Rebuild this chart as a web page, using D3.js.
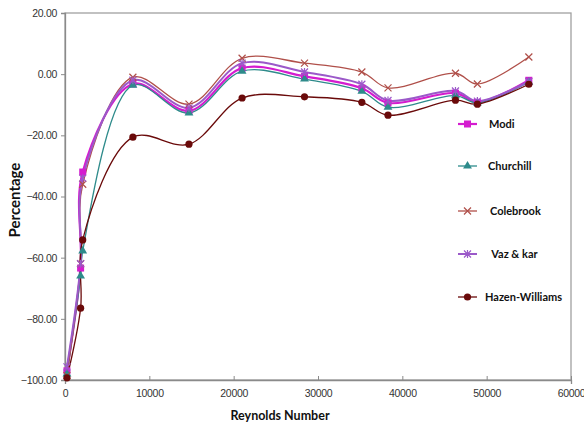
<!DOCTYPE html>
<html><head><meta charset="utf-8">
<script src="https://cdn.jsdelivr.net/npm/d3@7"></script>
<style>body{margin:0;background:#fff}svg{display:block}</style>
</head><body>
<svg id="c" width="584" height="430"></svg>
<script>
const reynolds = [230, 1850, 2100, 8050, 14700, 21000, 28400, 35200, 38300, 46300, 48900, 55000];
const modi      = [-97.0, -63.4, -32.0, -3.2, -12.0, 2.0, -0.7, -4.6, -9.4, -6.2, -9.2, -2.0];
const churchill = [-98.0, -66.0, -57.8, -3.6, -12.7, 1.0, -1.6, -5.6, -10.8, -7.0, -9.4, -2.6];
const colebrook = [-98.5, -62.0, -36.0, -1.0, -9.8, 5.2, 3.6, 0.7, -4.5, 0.3, -3.2, 5.6];
const vazKar    = [-95.7, -62.0, -34.0, -2.0, -11.0, 3.6, 0.7, -3.3, -8.6, -5.5, -8.8, -2.4];
const hazen     = [-99.3, -76.5, -54.2, -20.6, -22.9, -7.8, -7.4, -9.2, -13.4, -8.5, -9.8, -3.3];
const seriesNames = ["Modi", "Churchill", "Colebrook", " Vaz & kar", "Hazen-Williams"];
const xTicks = [0, 10000, 20000, 30000, 40000, 50000, 60000];
const yTicks = [-100, -80, -60, -40, -20, 0, 20];

const series = [
  {name: seriesNames[0], values: modi, color: "#d41ccf", width: 2.2, marker: "square"},
  {name: seriesNames[1], values: churchill, color: "#2e8b8b", width: 1.3, marker: "triangle"},
  {name: seriesNames[2], values: colebrook, color: "#b0504a", width: 1.3, marker: "cross"},
  {name: seriesNames[3], values: vazKar, color: "#9b59c9", width: 2.0, marker: "star"},
  {name: seriesNames[4], values: hazen, color: "#6a0a0a", width: 1.3, marker: "circle"}
];

const svg = d3.select("#c");
const x = d3.scaleLinear().domain([0, 60000]).range([65, 571]);
const y = d3.scaleLinear().domain([-100, 20]).range([380, 13]);

// frame
svg.append("rect").attr("x", 65).attr("y", 13).attr("width", 506).attr("height", 367)
  .attr("fill", "none").attr("stroke", "#a0a0a0").attr("stroke-width", 1.3);

const xAxis = svg.append("g").attr("transform", "translate(0,380)")
  .call(d3.axisBottom(x).tickValues(xTicks).tickFormat(d3.format("d")).tickSize(4).tickPadding(6));
const yAxis = svg.append("g").attr("transform", "translate(65,0)")
  .call(d3.axisLeft(y).tickValues(yTicks).tickFormat(d3.format(".2f")).tickSize(4).tickPadding(4));
[xAxis, yAxis].forEach(a => {
  a.selectAll("path").attr("stroke", "#8a8a8a").attr("stroke-width", 1.3);
  a.selectAll("line").attr("stroke", "#8a8a8a");
  a.selectAll("text").attr("font-family", "Liberation Sans, Arial, sans-serif")
    .attr("font-size", 10.5).attr("fill", "#333").attr("letter-spacing", "-0.3");
});
xAxis.selectAll(".tick line").attr("y2", -4);
yAxis.selectAll(".tick line").attr("x2", -4);

const line = d3.line().x((d, i) => x(reynolds[i])).y(d => y(d)).curve(d3.curveCatmullRom.alpha(0.5));

function drawMarker(g, type, cx, cy, color) {
  if (type === "square") {
    g.append("rect").attr("x", cx - 3.5).attr("y", cy - 3.5).attr("width", 7).attr("height", 7).attr("fill", color);
  } else if (type === "triangle") {
    g.append("path").attr("d", d3.symbol().type(d3.symbolTriangle).size(34)()).attr("transform", `translate(${cx},${cy})`).attr("fill", color);
  } else if (type === "circle") {
    g.append("circle").attr("cx", cx).attr("cy", cy).attr("r", 3.6).attr("fill", color);
  } else if (type === "cross") {
    g.append("path").attr("d", `M${cx-3.5},${cy-3.5}L${cx+3.5},${cy+3.5}M${cx-3.5},${cy+3.5}L${cx+3.5},${cy-3.5}`)
      .attr("stroke", color).attr("stroke-width", 1.2);
  } else if (type === "star") {
    g.append("path").attr("d", `M${cx-3.5},${cy-3.5}L${cx+3.5},${cy+3.5}M${cx-3.5},${cy+3.5}L${cx+3.5},${cy-3.5}M${cx},${cy-4}L${cx},${cy+4}`)
      .attr("stroke", color).attr("stroke-width", 1.2);
  }
}

const plot = svg.append("g");
series.forEach(s => {
  plot.append("path").datum(s.values).attr("d", line).attr("fill", "none")
    .attr("stroke", s.color).attr("stroke-width", s.width);
});
series.forEach(s => {
  const g = plot.append("g");
  s.values.forEach((v, i) => drawMarker(g, s.marker, x(reynolds[i]), y(v), s.color));
});

// legend
const legY = [124, 166, 211, 254, 297];
const legTextX = [489, 488, 490, 489, 485];
series.forEach((s, i) => {
  const g = svg.append("g");
  g.append("line").attr("x1", 458).attr("x2", 477).attr("y1", legY[i]).attr("y2", legY[i])
    .attr("stroke", s.color).attr("stroke-width", s.width);
  drawMarker(g, s.marker, 467.5, legY[i], s.color);
  g.append("text").attr("x", legTextX[i]).attr("y", legY[i]).attr("dy", "0.35em")
    .attr("font-family", "Lato, Open Sans, sans-serif").attr("font-weight", "bold").attr("font-size", 11)
    .attr("fill", "#111").attr("xml:space", "preserve").style("white-space", "pre").text(s.name);
});

svg.append("text").attr("x", 280).attr("y", 420).attr("text-anchor", "middle")
  .attr("font-family", "Lato, Open Sans, sans-serif").attr("font-weight", "bold").attr("font-size", 12.5)
  .attr("fill", "#111").text("Reynolds Number");
svg.append("text").attr("transform", "translate(20,200) rotate(-90)").attr("text-anchor", "middle")
  .attr("font-family", "Lato, Open Sans, sans-serif").attr("font-weight", "bold").attr("font-size", 15)
  .attr("fill", "#111").text("Percentage");
</script>
</body></html>
